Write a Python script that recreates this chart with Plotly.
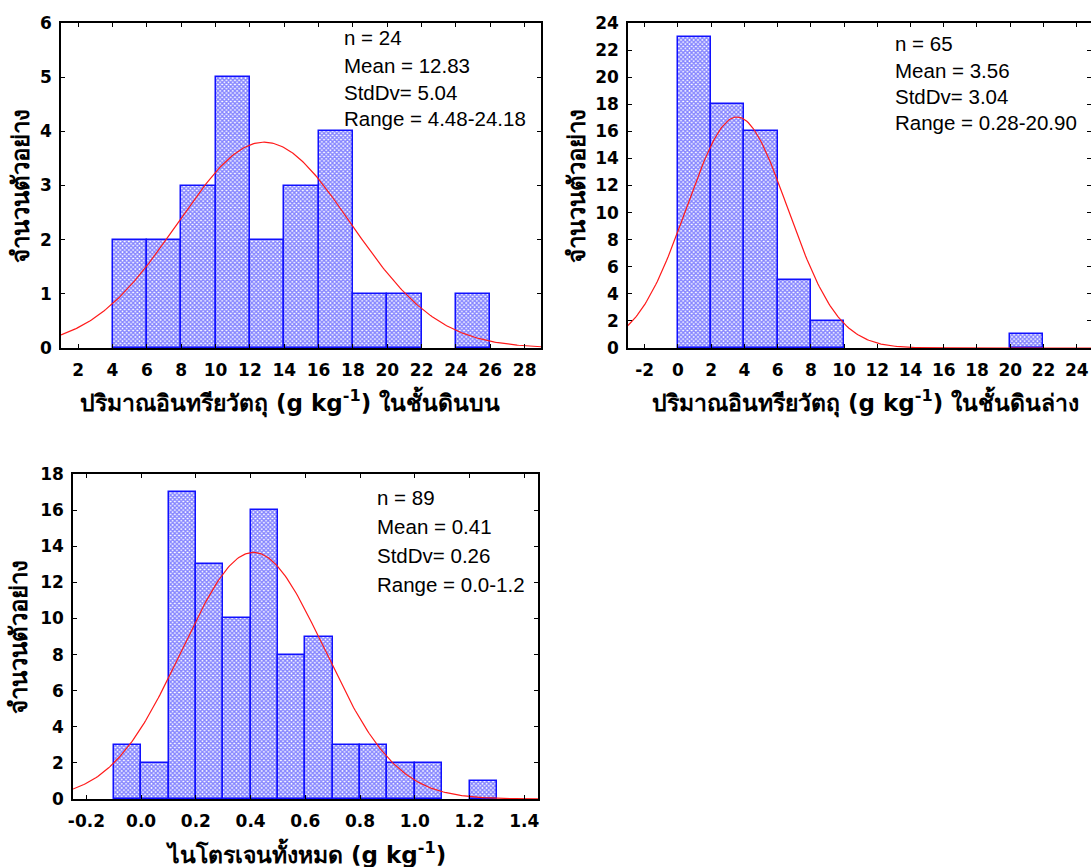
import math
import plotly.graph_objects as go

# ---------------- data ----------------
# Panel 1: topsoil organic matter
p1_bin_start = [4, 6, 8, 10, 12, 14, 16, 18, 20, 24]
p1_counts = [2, 2, 3, 5, 2, 3, 4, 1, 1, 1]
p1_bin_width = 2
p1_n, p1_mean, p1_sd = 24, 12.83, 5.04
p1_stats = ["n = 24", "Mean = 12.83", "StdDv= 5.04", "Range = 4.48-24.18"]

# Panel 2: subsoil organic matter
p2_bin_start = [0, 2, 4, 6, 8, 20]
p2_counts = [23, 18, 16, 5, 2, 1]
p2_bin_width = 2
p2_n, p2_mean, p2_sd = 65, 3.56, 3.04
p2_stats = ["n = 65", "Mean = 3.56", "StdDv= 3.04", "Range = 0.28-20.90"]

# Panel 3: total nitrogen
p3_bin_start = [-0.1, 0.0, 0.1, 0.2, 0.3, 0.4, 0.5, 0.6, 0.7, 0.8, 0.9, 1.0, 1.2]
p3_counts = [3, 2, 17, 13, 10, 16, 8, 9, 3, 3, 2, 2, 1]
p3_bin_width = 0.1
p3_n, p3_mean, p3_sd = 89, 0.41, 0.26
p3_stats = ["n = 89", "Mean = 0.41", "StdDv= 0.26", "Range = 0.0-1.2"]

x1_title = "ปริมาณอินทรียวัตถุ (g kg<sup>-1</sup>) ในชั้นดินบน"
x2_title = "ปริมาณอินทรียวัตถุ (g kg<sup>-1</sup>) ในชั้นดินล่าง"
x3_title = "ไนโตรเจนทั้งหมด (g kg<sup>-1</sup>)"
y_title = "จำนวนตัวอย่าง"

x1_ticks = list(range(2, 29, 2))
x2_ticks = list(range(-2, 25, 2))
x3_ticks = [-0.2, 0.0, 0.2, 0.4, 0.6, 0.8, 1.0, 1.2, 1.4]
x3_ticktext = ["-0.2", "0.0", "0.2", "0.4", "0.6", "0.8", "1.0", "1.2", "1.4"]

# ---------------- figure ----------------
W, H = 1091, 867
fig = go.Figure()

BAR_LINE = "#1010ff"
PAT = "#0a0aff"
TICKFONT = dict(family="DejaVu Sans", size=17, color="black", weight="bold")
XTITLEFONT = dict(family="DejaVu Sans", size=23, color="black", weight="bold")
YTITLEFONT = dict(family="DejaVu Sans", size=24, color="black", weight="bold")


def normal_curve(n, w, mu, sd, lo, hi, steps=300):
    xs, ys = [], []
    for i in range(steps + 1):
        x = lo + (hi - lo) * i / steps
        xs.append(x)
        ys.append(n * w / (sd * math.sqrt(2 * math.pi)) * math.exp(-((x - mu) ** 2) / (2 * sd * sd)))
    return xs, ys


panels = [
    dict(starts=p1_bin_start, counts=p1_counts, w=p1_bin_width, n=p1_n, mu=p1_mean, sd=p1_sd,
         xr=[1.0, 28.95], yr=[0, 6], ytick=1, xticks=x1_ticks, xtt=[str(t) for t in x1_ticks],
         dom_x=[61, 541], dom_y=[23, 348], stats=p1_stats, stat_x=342, stat_y=[38, 65, 92, 119],
         xtitle=x1_title, xt_pos=(290, 402), yt_x=20),
    dict(starts=p2_bin_start, counts=p2_counts, w=p2_bin_width, n=p2_n, mu=p2_mean, sd=p2_sd,
         xr=[-3.0, 24.86], yr=[0, 24], ytick=2, xticks=x2_ticks, xtt=[str(t) for t in x2_ticks],
         dom_x=[628, 1091], dom_y=[23, 348], stats=p2_stats, stat_x=893, stat_y=[43, 70, 97, 123],
         xtitle=x2_title, xt_pos=(865, 402), yt_x=576),
    dict(starts=p3_bin_start, counts=p3_counts, w=p3_bin_width, n=p3_n, mu=p3_mean, sd=p3_sd,
         xr=[-0.249, 1.45], yr=[0, 18], ytick=2, xticks=x3_ticks, xtt=x3_ticktext,
         dom_x=[73, 538], dom_y=[474, 799], stats=p3_stats, stat_x=375, stat_y=[497, 526, 555, 584],
         xtitle=x3_title, xt_pos=(306, 853), yt_x=18),
]

annotations = []
for i, p in enumerate(panels, start=1):
    xa = "x" if i == 1 else f"x{i}"
    ya = "y" if i == 1 else f"y{i}"
    fig.add_trace(go.Bar(
        x=p["starts"], y=p["counts"], width=[p["w"]] * len(p["starts"]), offset=0,
        marker=dict(color="white",
                    line=dict(color=BAR_LINE, width=1.5),
                    pattern=dict(shape="x", fgcolor=PAT, bgcolor="white", size=3, solidity=0.7)),
        xaxis=xa, yaxis=ya, showlegend=False, hoverinfo="x+y",
    ))
    cx, cy = normal_curve(p["n"], p["w"], p["mu"], p["sd"], p["xr"][0], p["xr"][1])
    fig.add_trace(go.Scatter(x=cx, y=cy, mode="lines", line=dict(color="#ff1a1a", width=1.2),
                             xaxis=xa, yaxis=ya, showlegend=False, hoverinfo="skip"))
    axis_common = dict(showgrid=False, zeroline=False, showline=True, linecolor="black", linewidth=1.5,
                       mirror="ticks", ticks="inside", ticklen=4, tickcolor="black", tickwidth=1,
                       tickfont=TICKFONT, automargin=False)
    xkey = "xaxis" if i == 1 else f"xaxis{i}"
    ykey = "yaxis" if i == 1 else f"yaxis{i}"
    fig.update_layout(**{
        xkey: dict(axis_common, domain=[p["dom_x"][0] / W, p["dom_x"][1] / W], range=p["xr"],
                   tickmode="array", tickvals=p["xticks"], ticktext=p["xtt"],
                   anchor=ya, ticklabelstandoff=6),
        ykey: dict(axis_common, domain=[1 - p["dom_y"][1] / H, 1 - p["dom_y"][0] / H], range=p["yr"],
                   dtick=p["ytick"], tick0=0, anchor=xa, ticklabelstandoff=4),
    })
    for txt, sy in zip(p["stats"], p["stat_y"]):
        annotations.append(dict(text=txt, x=p["stat_x"] / W, y=1 - sy / H, xref="paper", yref="paper",
                                xanchor="left", yanchor="middle", showarrow=False,
                                font=dict(family="Liberation Sans, Arial", size=20.5, color="black")))
    annotations.append(dict(text=p["xtitle"], x=p["xt_pos"][0] / W, y=1 - p["xt_pos"][1] / H,
                            xref="paper", yref="paper", xanchor="center", yanchor="middle",
                            showarrow=False, font=XTITLEFONT))
    ymid = (p["dom_y"][0] + p["dom_y"][1]) / 2
    annotations.append(dict(text=y_title, x=p["yt_x"] / W, y=1 - ymid / H,
                            xref="paper", yref="paper", xanchor="center", yanchor="middle",
                            textangle=-90, showarrow=False, font=YTITLEFONT))

fig.update_layout(width=W, height=H, margin=dict(l=0, r=0, t=0, b=0),
                  paper_bgcolor="white", plot_bgcolor="white", annotations=annotations,
                  bargap=0)

fig.write_html("out.html", config={"displayModeBar": False},
               post_script="document.body.style.margin='0';")
